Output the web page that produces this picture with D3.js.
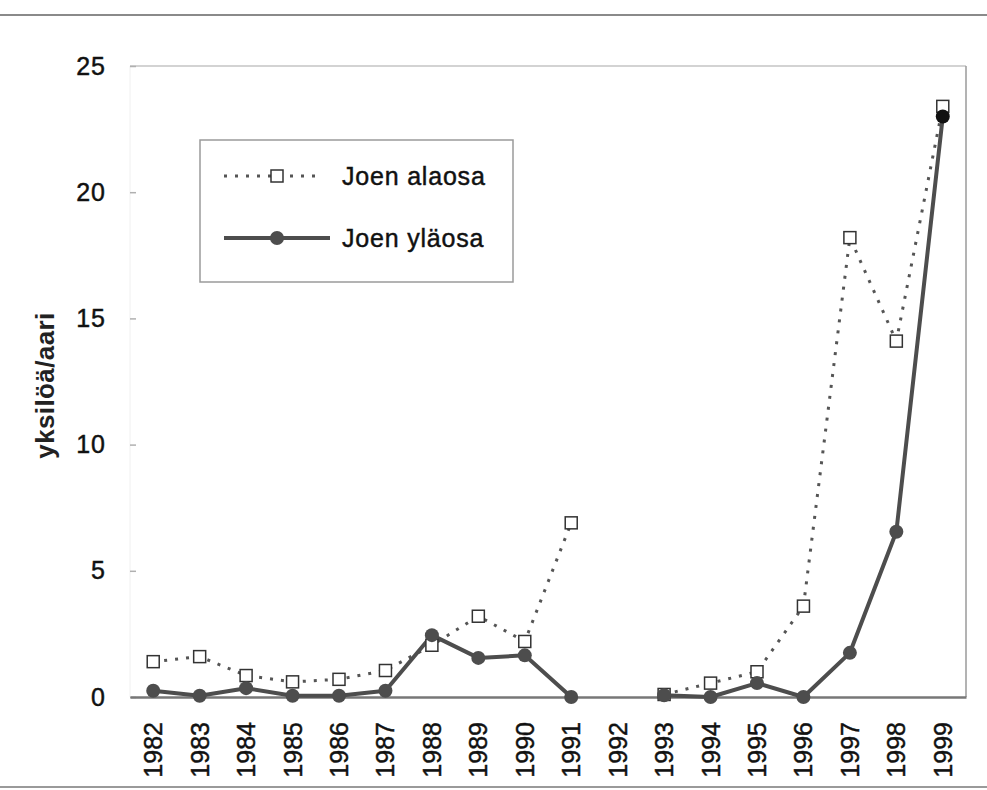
<!DOCTYPE html>
<html>
<head>
<meta charset="utf-8">
<script src="https://cdn.jsdelivr.net/npm/d3@7/dist/d3.min.js"></script>
<style>
  html, body { margin: 0; padding: 0; background: #fff; }
  svg { display: block; font-family: "Liberation Sans", Arial, Helvetica, sans-serif; }
</style>
</head>
<body>
<svg id="chart" width="987" height="790"></svg>
<script>
// Vuodet ja yksilötiheydet (yksilöä/aari); 1992 ei mitattu
const years = ["1982","1983","1984","1985","1986","1987","1988","1989","1990",
               "1991","1992","1993","1994","1995","1996","1997","1998","1999"];
const alaosa = [1.4, 1.6, 0.85, 0.6, 0.7, 1.05, 2.05, 3.2, 2.2,
                6.9, null, 0.1, 0.55, 1.0, 3.6, 18.2, 14.1, 23.4];
const ylaosa = [0.25, 0.05, 0.35, 0.05, 0.05, 0.25, 2.45, 1.55, 1.65,
                0.0, null, 0.07, 0.0, 0.55, 0.0, 1.75, 6.55, 23.0];
const yTicks = [0, 5, 10, 15, 20, 25];
const seriesNames = ["Joen alaosa", "Joen yläosa"];

const svg = d3.select("#chart");
const plot = { left: 130, right: 966, top: 66, bottom: 697 };
const ink = "#4d4d4d";

const x = d3.scaleBand().domain(years).range([plot.left, plot.right]);
const y = d3.scaleLinear().domain([0, 25]).range([plot.bottom, plot.top]);
const cx = d => x(d) + x.bandwidth() / 2;

// slightly heavier text strokes
const heavy = sel => sel.attr("stroke", "#111").attr("stroke-width", 0.45);

// outer frame lines
svg.append("line").attr("x1", 0).attr("x2", 987).attr("y1", 15).attr("y2", 15)
  .attr("stroke", "#8a8a8a").attr("stroke-width", 2);
svg.append("line").attr("x1", 0).attr("x2", 987).attr("y1", 787).attr("y2", 787)
  .attr("stroke", "#9a9a9a").attr("stroke-width", 2);

// plot area border
svg.append("line").attr("x1", plot.left).attr("x2", plot.right)
  .attr("y1", plot.top).attr("y2", plot.top).attr("stroke", "#c4c4c4").attr("stroke-width", 1.5);
svg.append("line").attr("x1", plot.right).attr("x2", plot.right)
  .attr("y1", plot.top).attr("y2", plot.bottom).attr("stroke", "#9a9a9a").attr("stroke-width", 1.5);
svg.append("line").attr("x1", plot.left).attr("x2", plot.left)
  .attr("y1", plot.top).attr("y2", plot.bottom).attr("stroke", "#f0f0f0").attr("stroke-width", 1);

// y axis
const yAxis = svg.append("g").attr("transform", `translate(${plot.left},0)`)
  .call(d3.axisLeft(y).tickValues(yTicks).tickSizeInner(-6).tickSizeOuter(0).tickPadding(24));
yAxis.select(".domain").remove();
yAxis.selectAll(".tick line").attr("stroke", "#b0b0b0").attr("stroke-width", 1.5);
yAxis.selectAll("text").attr("font-size", 25).attr("fill", "#111").attr("letter-spacing", 1)
  .attr("font-family", "Liberation Sans, Arial, sans-serif").call(heavy);

// x axis
const xAxis = svg.append("g").attr("transform", `translate(0,${plot.bottom})`)
  .call(d3.axisBottom(x).tickSize(0).tickSizeOuter(0));
xAxis.select(".domain").attr("stroke", "#777").attr("stroke-width", 2.5);
xAxis.selectAll("text")
  .attr("font-size", 25).attr("fill", "#111")
  .attr("transform", "rotate(-90)")
  .attr("x", -25).attr("y", 0).attr("dy", "0.36em")
  .style("text-anchor", "end")
  .call(heavy);

// y axis title
svg.append("text")
  .attr("transform", `translate(45,${(plot.top + plot.bottom) / 2 + 4}) rotate(-90)`)
  .attr("text-anchor", "middle").attr("dy", "0.35em")
  .attr("font-size", 26).attr("font-weight", "bold").attr("letter-spacing", 0.4)
  .attr("fill", "#222")
  .text("yksilöä/aari");

// series lines
const line = d3.line()
  .defined(d => d.v !== null)
  .x(d => cx(d.year))
  .y(d => y(d.v));

const alaData = years.map((yr, i) => ({ year: yr, v: alaosa[i] }));
const ylaData = years.map((yr, i) => ({ year: yr, v: ylaosa[i] }));

svg.append("path").datum(alaData)
  .attr("d", line).attr("fill", "none")
  .attr("stroke", "#555").attr("stroke-width", 3)
  .attr("stroke-dasharray", "3,8").attr("stroke-linecap", "butt");

svg.append("path").datum(ylaData)
  .attr("d", line).attr("fill", "none")
  .attr("stroke", ink).attr("stroke-width", 4)
  .attr("stroke-linejoin", "round");

// markers
svg.append("g").selectAll("rect")
  .data(alaData.filter(d => d.v !== null))
  .join("rect")
  .attr("x", d => cx(d.year) - 6).attr("y", d => y(d.v) - 6)
  .attr("width", 12).attr("height", 12)
  .attr("fill", "#fff").attr("stroke", "#333").attr("stroke-width", 1.5);

svg.append("g").selectAll("circle")
  .data(ylaData.filter(d => d.v !== null))
  .join("circle")
  .attr("cx", d => cx(d.year)).attr("cy", d => y(d.v))
  .attr("r", 7)
  .attr("fill", (d, i, n) => i === n.length - 1 ? "#111" : ink);

// legend
const lg = svg.append("g").attr("transform", "translate(200,140)");
lg.append("rect").attr("x", 0).attr("y", 0).attr("width", 313).attr("height", 142)
  .attr("fill", "#fff").attr("stroke", "#9a9a9a").attr("stroke-width", 1.5);

const rows = [
  { name: seriesNames[0], yy: 36, kind: "square" },
  { name: seriesNames[1], yy: 98, kind: "circle" }
];
rows.forEach(r => {
  const g = lg.append("g").attr("transform", `translate(0,${r.yy})`);
  if (r.kind === "square") {
    g.append("line").attr("x1", 24).attr("x2", 120).attr("y1", 0).attr("y2", 0)
      .attr("stroke", "#555").attr("stroke-width", 3).attr("stroke-dasharray", "3,8");
    g.append("rect").attr("x", 71).attr("y", -6).attr("width", 12).attr("height", 12)
      .attr("fill", "#fff").attr("stroke", "#333").attr("stroke-width", 1.5);
  } else {
    g.append("line").attr("x1", 24).attr("x2", 130).attr("y1", 0).attr("y2", 0)
      .attr("stroke", ink).attr("stroke-width", 4);
    g.append("circle").attr("cx", 77).attr("cy", 0).attr("r", 7).attr("fill", ink);
  }
  g.append("text").attr("x", 142).attr("y", 0).attr("dy", "0.35em")
    .attr("font-size", 25).attr("letter-spacing", 0.8).attr("fill", "#111")
    .text(r.name).call(heavy);
});
</script>
</body>
</html>
